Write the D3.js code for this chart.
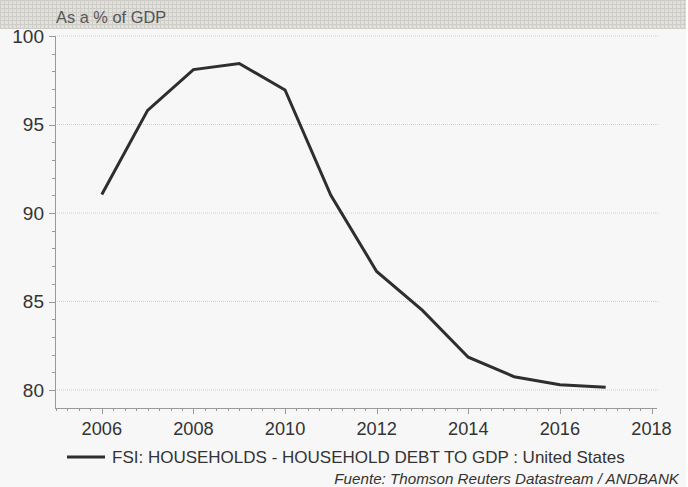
<!DOCTYPE html>
<html><head><meta charset="utf-8">
<script src="https://cdn.jsdelivr.net/npm/d3@7"></script>
<style>body{margin:0;background:#fff}svg{display:block;font-family:"Liberation Sans",Arial,sans-serif}</style>
</head><body><svg id="c" width="688" height="487"></svg>
<script>
const years = [2006,2007,2008,2009,2010,2011,2012,2013,2014,2015,2016,2017];
const debtToGdp = [91.05,95.8,98.1,98.45,96.95,91.0,86.7,84.5,81.85,80.75,80.3,80.15];
const yTicks = [80,85,90,95,100];
const xTicks = [2006,2008,2010,2012,2014,2016,2018];
const seriesName = "FSI: HOUSEHOLDS - HOUSEHOLD DEBT TO GDP : United States";
const unitLabel = "As a % of GDP";
const sourceText = "Fuente: Thomson Reuters Datastream / ANDBANK";

const svg = d3.select("#c");
const W=688,H=487;
svg.append("rect").attr("x",0).attr("y",0).attr("width",686).attr("height",H).attr("fill","#f7f7f7");
const defs = svg.append("defs");
const pat = defs.append("pattern").attr("id","hp").attr("width",4).attr("height",4).attr("patternUnits","userSpaceOnUse");
pat.append("rect").attr("width",4).attr("height",4).attr("fill","#e2e0dc");
pat.append("rect").attr("x",0).attr("y",0).attr("width",4).attr("height",1).attr("fill","#cdcbc6");
pat.append("rect").attr("x",0).attr("y",0).attr("width",1).attr("height",4).attr("fill","#cfcdc8");
svg.append("rect").attr("x",0).attr("y",0).attr("width",686).attr("height",29).attr("fill","url(#hp)");
svg.append("text").attr("x",56).attr("y",23).attr("font-size",16.4).attr("fill","#555").text(unitLabel);

const x = d3.scaleLinear().domain([2005,2018.12]).range([56,657]);
const y = d3.scaleLinear().domain([80,100]).range([390,36]);
const left=55, bottom=408;

svg.append("g").selectAll("line").data(yTicks).join("line")
  .attr("x1",left).attr("x2",659).attr("y1",d=>y(d)).attr("y2",d=>y(d))
  .attr("stroke","#d0d0d0").attr("stroke-width",1).attr("stroke-dasharray","1,1");

const ya = svg.append("g").attr("transform",`translate(${left},0)`);
ya.append("line").attr("x1",0.5).attr("x2",0.5).attr("y1",y(100)).attr("y2",bottom).attr("stroke","#999");
ya.selectAll(".mn").data(d3.range(80,100.5,1)).join("line")
  .attr("x1",-3).attr("x2",0).attr("y1",d=>Math.round(y(d))+0.5).attr("y2",d=>Math.round(y(d))+0.5).attr("stroke","#999");
ya.selectAll(".mj").data(yTicks).join("line")
  .attr("x1",-6).attr("x2",0).attr("y1",d=>Math.round(y(d))+0.5).attr("y2",d=>Math.round(y(d))+0.5).attr("stroke","#999");
ya.selectAll("text").data(yTicks).join("text")
  .attr("x",-11).attr("y",d=>y(d)).attr("dy","0.36em").attr("text-anchor","end")
  .attr("font-size",19).attr("fill","#333").text(d=>d);

const xa = svg.append("g").attr("transform",`translate(0,${bottom})`);
xa.append("line").attr("x1",left).attr("x2",657).attr("y1",0.5).attr("y2",0.5).attr("stroke","#999");
xa.selectAll(".mn").data(d3.range(2005,2018.2,0.25)).join("line")
  .attr("x1",d=>Math.round(x(d))+0.5).attr("x2",d=>Math.round(x(d))+0.5).attr("y1",0).attr("y2",3).attr("stroke","#999");
xa.selectAll(".mj").data(xTicks).join("line")
  .attr("x1",d=>Math.round(x(d))+0.5).attr("x2",d=>Math.round(x(d))+0.5).attr("y1",0).attr("y2",6).attr("stroke","#999");
xa.selectAll("text").data(xTicks).join("text")
  .attr("x",d=>x(d)).attr("y",27).attr("text-anchor","middle")
  .attr("font-size",18.2).attr("fill","#333").text(d=>d);

const line = d3.line().x((d,i)=>x(years[i])).y(d=>y(d));
svg.append("path").datum(debtToGdp).attr("d",line).attr("fill","none")
  .attr("stroke","#2e2e2e").attr("stroke-width",3).attr("stroke-linejoin","miter");

svg.append("line").attr("x1",67).attr("x2",105).attr("y1",457).attr("y2",457).attr("stroke","#2e2e2e").attr("stroke-width",3);
svg.append("text").attr("x",112).attr("y",463).attr("font-size",17).attr("fill","#333").text(seriesName);
svg.append("text").attr("x",679).attr("y",484).attr("text-anchor","end").attr("font-size",15.2).attr("font-style","italic").attr("fill","#333").text(sourceText);
</script></body></html>
